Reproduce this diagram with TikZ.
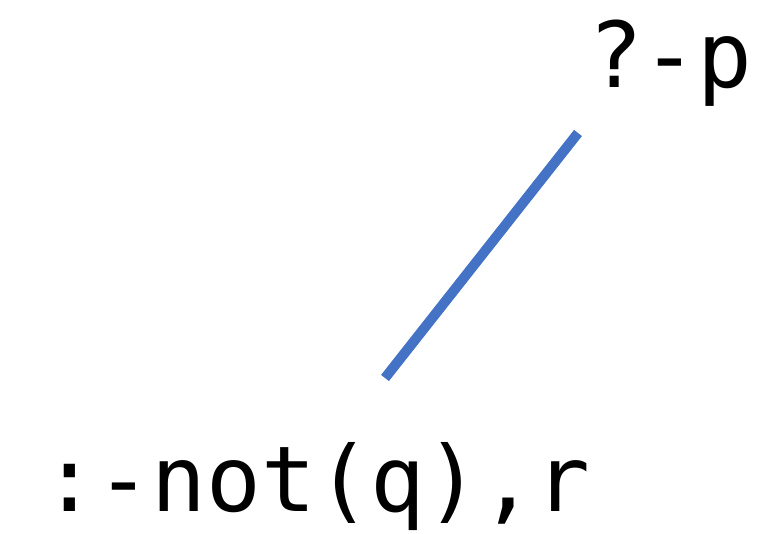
\documentclass[tikz,border=0pt]{standalone}
\usepackage{fontspec}
\setmonofont{DejaVu Sans Mono}
\usepackage{xcolor}
\definecolor{cLine}{HTML}{4472C4}
\usetikzlibrary{positioning,calc}
\tikzset{
  node-term/.style={inner sep=0pt,font=\fontsize{91}{100}\selectfont\ttfamily},
  edge-tree/.style={line width=10pt,draw=cLine},
}
\begin{document}
\begin{tikzpicture}[x=1pt,y=1pt]
  \useasboundingbox (0,0) rectangle (770,534);
  \node[node-term,anchor=base west] (goal) at (588,446) {?-p};
  \node[node-term,anchor=base west] (body) at (42,22)   {:-not(q),r};
  % ends of the branch
  \coordinate (goal-end) at (578,401);
  \coordinate (body-end) at (385,156);
  \draw[edge-tree] (goal-end) -- (body-end);
\end{tikzpicture}
\end{document}
